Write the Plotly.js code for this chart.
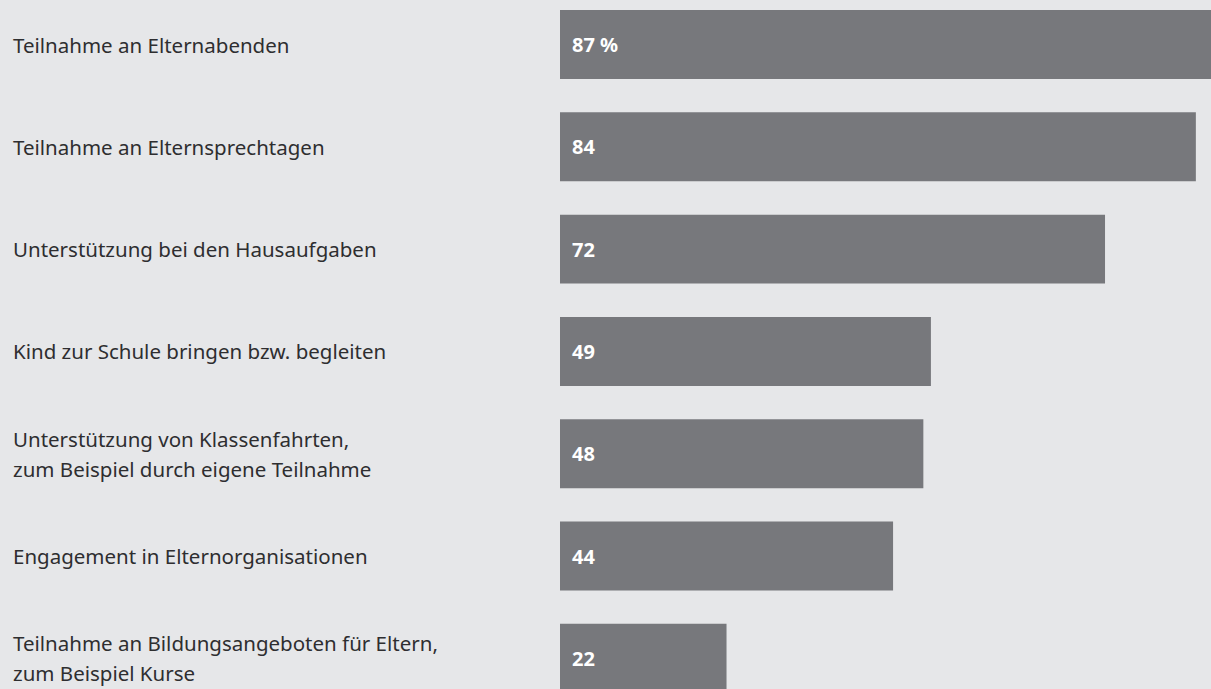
<!DOCTYPE html>
<html>
<head>
<meta charset="utf-8">
<script src="https://cdn.plot.ly/plotly-3.0.1.min.js"></script>
<style>html,body{margin:0;padding:0;background:#e6e7e9;}#chart{width:1211px;height:689px;}</style>
</head>
<body>
<div id="chart"></div>
<script>
const categories = [
  "Teilnahme an Elternabenden",
  "Teilnahme an Elternsprechtagen",
  "Unterstützung bei den Hausaufgaben",
  "Kind zur Schule bringen bzw. begleiten",
  "Unterstützung von Klassenfahrten,<br>zum Beispiel durch eigene Teilnahme",
  "Engagement in Elternorganisationen",
  "Teilnahme an Bildungsangeboten für Eltern,<br>zum Beispiel Kurse"
];
const values = [87, 84, 72, 49, 48, 44, 22];
const valueLabels = ["87 %", "84", "72", "49", "48", "44", "22"];

const ids = categories.map((c, i) => "c" + i);
const FONT = "Noto Sans, Open Sans, sans-serif";
const LINE_GAP = 30;

const trace = {
  type: "bar",
  orientation: "h",
  y: ids,
  x: values,
  marker: {color: "#77787c"},
  hoverinfo: "skip",
  cliponaxis: true
};

const annotations = [];
categories.forEach((c, i) => {
  const lines = c.split("<br>");
  lines.forEach((ln, k) => {
    annotations.push({
      xref: "paper", yref: "y", x: -549/651, y: ids[i],
      yshift: ((lines.length - 1) / 2 - k) * LINE_GAP,
      text: ln, showarrow: false, xanchor: "left", yanchor: "middle", align: "left",
      font: {family: FONT, size: 20.5, color: "#2e2e30"}
    });
  });
  annotations.push({
    xref: "x", yref: "y", x: 0, y: ids[i], xshift: 10,
    text: "<b>" + valueLabels[i] + "</b>", showarrow: false, xanchor: "left", yanchor: "middle",
    font: {family: FONT, size: 20, color: "#ffffff"}
  });
});

const layout = {
  width: 1211, height: 689,
  margin: {l: 560, r: 0, t: 0, b: 0, pad: 0},
  paper_bgcolor: "#e6e7e9",
  plot_bgcolor: "#e6e7e9",
  bargap: 0.326,
  showlegend: false,
  xaxis: {range: [0, 86], visible: false, fixedrange: true},
  yaxis: {type: "category", categoryarray: ids, range: [6.300, -0.435], visible: false, fixedrange: true},
  annotations: annotations
};

Plotly.newPlot("chart", [trace], layout, {displayModeBar: false, staticPlot: true});
</script>
</body>
</html>
